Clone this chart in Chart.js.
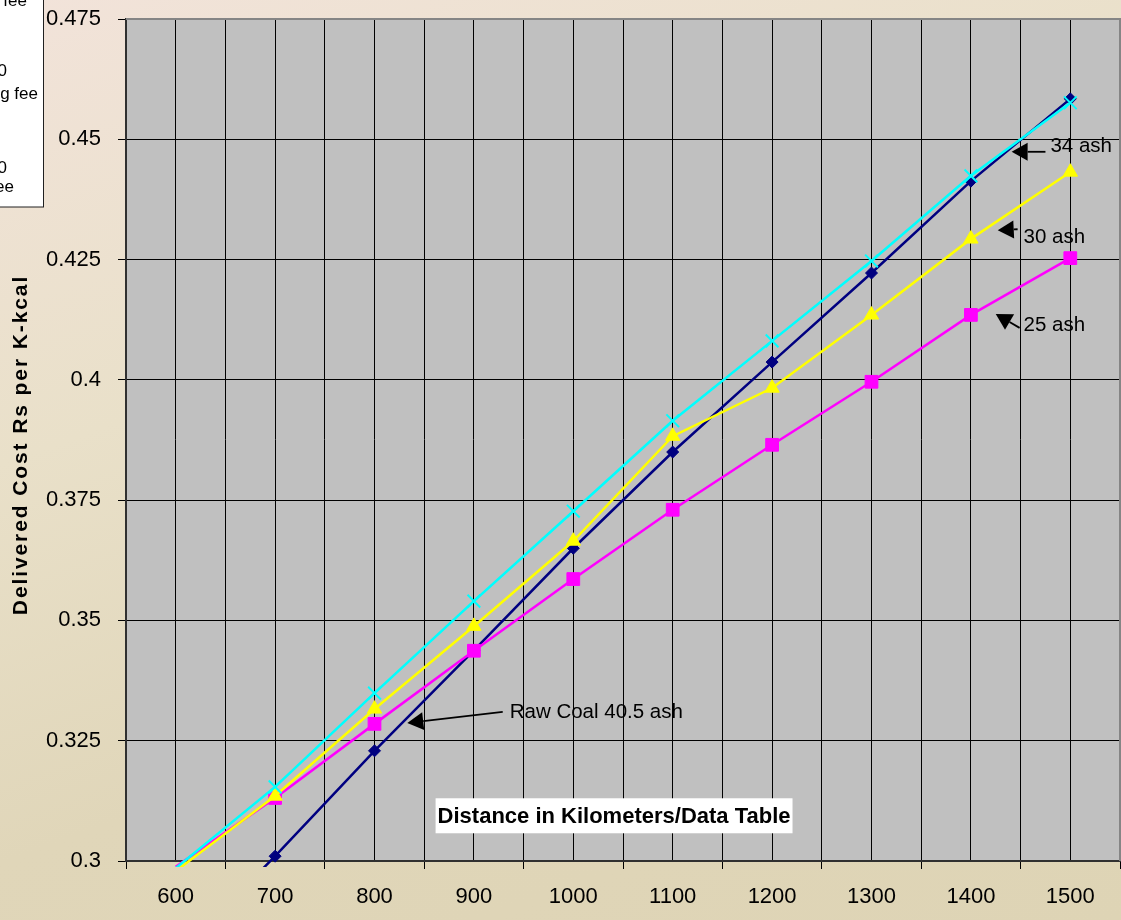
<!DOCTYPE html>
<html>
<head>
<meta charset="utf-8">
<title>Delivered Cost vs Distance</title>
<script src="https://cdn.jsdelivr.net/npm/chart.js@4/dist/chart.umd.min.js"></script>
<style>
  html, body { margin: 0; padding: 0; overflow: hidden; }
  body {
    width: 1121px; height: 920px;
    background: linear-gradient(160deg, #f2e3da 0%, #e9e0c9 35%, #e0d6b9 65%, #ded4b5 100%);
  }
  canvas { display: block; }
</style>
</head>
<body>
<canvas id="chart" width="1121" height="920"></canvas>
<script>
// Distance categories (km)
const distances = [600, 700, 800, 900, 1000, 1100, 1200, 1300, 1400, 1500];

// Delivered cost, Rs per K-kcal
const rawCoal405 = [0.2800, 0.3010, 0.3229, 0.3438, 0.3650, 0.3850, 0.4037, 0.4222, 0.4413, 0.4584];
const washed25   = [0.2988, 0.3131, 0.3285, 0.3437, 0.3586, 0.3730, 0.3865, 0.3996, 0.4135, 0.4253];
const washed30   = [0.2979, 0.3135, 0.3316, 0.3488, 0.3665, 0.3883, 0.3983, 0.4135, 0.4293, 0.4432];
const washed34   = [0.2985, 0.3154, 0.3349, 0.3540, 0.3727, 0.3915, 0.4081, 0.4247, 0.4424, 0.4576];

// Value axis ticks and their labels
const yTicks = [0.3, 0.325, 0.35, 0.375, 0.4, 0.425, 0.45, 0.475];
const yTickLabels = ['0.3', '0.325', '0.35', '0.375', '0.4', '0.425', '0.45', '0.475'];

// Cut-off legend text at the left edge
const legendFragments = [
  { text: 'fee',   right: 27, base: 6 },
  { text: '0',     right: 7,  base: 76 },
  { text: 'g fee', right: 38, base: 99 },
  { text: '0',     right: 7,  base: 173 },
  { text: 'ee',    right: 14, base: 192 }
];

// Callouts, placed in data units: label anchor, arrow tail, arrow tip
const callouts = [
  { text: '34 ash',            at: [1480, 0.4485], tail: [1475, 0.4474], tip: [1441, 0.4474] },
  { text: '30 ash',            at: [1453, 0.4297], tail: [1447, 0.4313], tip: [1427, 0.4311] },
  { text: '25 ash',            at: [1453, 0.4114], tail: [1449, 0.4108], tip: [1425, 0.4137] },
  { text: 'Raw Coal 40.5 ash', at: [936,  0.3308], tail: [929,  0.3310], tip: [833,  0.3287] }
];
const xTitle = { text: 'Distance in Kilometers/Data Table', at: [1041, 0.3094] };
const yTitle = 'Delivered Cost Rs per K-kcal';

const FONT = "'Liberation Sans', Arial, sans-serif";
const yMin = Math.min(...yTicks);
const yMax = Math.max(...yTicks);
const xMin = distances[0] - 50;
const xMax = distances[distances.length - 1] + 50;

function pts(arr) { return distances.map((d, i) => ({ x: d, y: arr[i] })); }
function radiusAbove(r) {
  return ctx => (ctx.raw && ctx.raw.y < yMin) ? 0 : r;
}
function noOverflow(scale) {
  scale.paddingTop = 0; scale.paddingBottom = 0;
  scale.paddingLeft = 0; scale.paddingRight = 0;
}

const lineClip = { left: 0, top: 0, right: 0, bottom: 6 };

const datasets = [
  {
    label: '34 ash', data: pts(washed34),
    borderColor: '#00ffff', backgroundColor: '#00ffff', borderWidth: 2.5,
    pointStyle: 'crossRot', pointRadius: radiusAbove(9), pointBorderWidth: 2,
    pointBorderColor: '#00ffff', clip: lineClip
  },
  {
    label: '30 ash', data: pts(washed30),
    borderColor: '#ffff00', backgroundColor: '#ffff00', borderWidth: 2.5,
    pointStyle: 'triangle', pointRadius: radiusAbove(8.3), pointBorderWidth: 1,
    pointBorderColor: '#ffff00', clip: lineClip
  },
  {
    label: '25 ash', data: pts(washed25),
    borderColor: '#ff00ff', backgroundColor: '#ff00ff', borderWidth: 2.5,
    pointStyle: 'rect', pointRadius: radiusAbove(9), pointBorderWidth: 1,
    pointBorderColor: '#ff00ff', clip: lineClip
  },
  {
    label: 'Raw Coal 40.5 ash', data: pts(rawCoal405),
    borderColor: '#000080', backgroundColor: '#000080', borderWidth: 2.5,
    pointStyle: 'rectRot', pointRadius: radiusAbove(6), pointBorderWidth: 1,
    pointBorderColor: '#000080', clip: lineClip
  }
];

function arrow(ctx, x1, y1, x2, y2) {
  const ang = Math.atan2(y2 - y1, x2 - x1);
  const len = 16, half = 9;
  const bx = x2 - Math.cos(ang) * len, by = y2 - Math.sin(ang) * len;
  ctx.beginPath();
  ctx.moveTo(x1, y1);
  ctx.lineTo(bx, by);
  ctx.lineWidth = 1.8;
  ctx.strokeStyle = '#000';
  ctx.stroke();
  ctx.beginPath();
  ctx.moveTo(x2, y2);
  ctx.lineTo(bx - Math.sin(ang) * half, by + Math.cos(ang) * half);
  ctx.lineTo(bx + Math.sin(ang) * half, by - Math.cos(ang) * half);
  ctx.closePath();
  ctx.fillStyle = '#000';
  ctx.fill();
}

const decor = {
  id: 'decor',
  beforeDraw(chart) {
    const { ctx, chartArea: a } = chart;
    ctx.save();
    // plot area fill
    ctx.fillStyle = '#c0c0c0';
    ctx.fillRect(a.left, a.top, a.right - a.left, a.bottom - a.top);
    // legend box at the left edge
    ctx.fillStyle = '#ffffff';
    ctx.fillRect(-2, -2, 45.5, 209);
    ctx.strokeStyle = '#202020';
    ctx.lineWidth = 1;
    ctx.strokeRect(-2, -2, 45.5, 209);
    ctx.fillStyle = '#000';
    ctx.font = '17px ' + FONT;
    ctx.textAlign = 'right';
    ctx.textBaseline = 'alphabetic';
    legendFragments.forEach(f => ctx.fillText(f.text, f.right, f.base));
    // value axis title
    ctx.translate(21, (a.top + a.bottom) / 2 + 5);
    ctx.rotate(-Math.PI / 2);
    ctx.font = 'bold 21px ' + FONT;
    if ('letterSpacing' in ctx) ctx.letterSpacing = '1.9px';
    ctx.textAlign = 'center';
    ctx.textBaseline = 'middle';
    ctx.fillText(yTitle, 0, 0);
    ctx.restore();
  },
  beforeDatasetsDraw(chart) {
    const { ctx, chartArea: a } = chart;
    ctx.save();
    ctx.strokeStyle = '#858585';
    ctx.lineWidth = 2;
    ctx.beginPath();
    ctx.moveTo(a.left, a.top);
    ctx.lineTo(a.right, a.top);
    ctx.lineTo(a.right, a.bottom);
    ctx.stroke();
    ctx.restore();
  },
  afterDraw(chart) {
    const { ctx, scales: { x, y } } = chart;
    ctx.save();
    ctx.font = '20.5px ' + FONT;
    ctx.textAlign = 'left';
    ctx.textBaseline = 'middle';
    callouts.forEach(c => {
      arrow(ctx, x.getPixelForValue(c.tail[0]), y.getPixelForValue(c.tail[1]),
                 x.getPixelForValue(c.tip[0]), y.getPixelForValue(c.tip[1]));
      ctx.fillStyle = '#000';
      ctx.fillText(c.text, x.getPixelForValue(c.at[0]), y.getPixelForValue(c.at[1]));
    });
    // axis title box inside the plot
    ctx.font = 'bold 22px ' + FONT;
    const w = ctx.measureText(xTitle.text).width;
    const cx = x.getPixelForValue(xTitle.at[0]);
    const cy = y.getPixelForValue(xTitle.at[1]);
    ctx.fillStyle = '#ffffff';
    ctx.fillRect(cx - w / 2 - 2, cy - 17.5, w + 4, 35);
    ctx.fillStyle = '#000';
    ctx.textAlign = 'center';
    ctx.fillText(xTitle.text, cx, cy + 1);
    ctx.restore();
  }
};

new Chart(document.getElementById('chart'), {
  type: 'line',
  data: { datasets },
  options: {
    responsive: false,
    animation: false,
    events: [],
    devicePixelRatio: 1,
    layout: { autoPadding: false, padding: { top: 19, right: 1, left: 0, bottom: 0 } },
    elements: { line: { tension: 0 } },
    plugins: { legend: { display: false }, tooltip: { enabled: false } },
    scales: {
      x: {
        type: 'linear',
        min: xMin, max: xMax,
        afterBuildTicks(scale) {
          const t = [];
          for (let v = xMin; v <= xMax; v += 50) t.push({ value: v });
          scale.ticks = t;
        },
        afterFit(scale) { scale.height = 59; noOverflow(scale); },
        ticks: {
          autoSkip: false, maxRotation: 0, minRotation: 0,
          padding: 15, color: '#000',
          font: { family: FONT, size: 22 },
          callback: v => distances.includes(v) ? String(v) : ''
        },
        grid: {
          color: '#000', lineWidth: 1, tickLength: 8,
          tickColor: ctx => (ctx.tick && distances.includes(ctx.tick.value)) ? 'rgba(0,0,0,0)' : '#000'
        },
        border: { color: '#303030', width: 2 }
      },
      y: {
        type: 'linear',
        min: yMin, max: yMax,
        afterBuildTicks(scale) { scale.ticks = yTicks.map(v => ({ value: v })); },
        afterFit(scale) { scale.width = 126; noOverflow(scale); },
        ticks: {
          padding: 17, color: '#000',
          font: { family: FONT, size: 22 },
          callback: v => {
            const i = yTicks.findIndex(t => Math.abs(t - v) < 1e-9);
            return i >= 0 ? yTickLabels[i] : '';
          }
        },
        grid: { color: '#000', lineWidth: 1, tickLength: 8, tickColor: '#000' },
        border: { color: '#303030', width: 2 }
      }
    }
  },
  plugins: [decor]
});
</script>
</body>
</html>
